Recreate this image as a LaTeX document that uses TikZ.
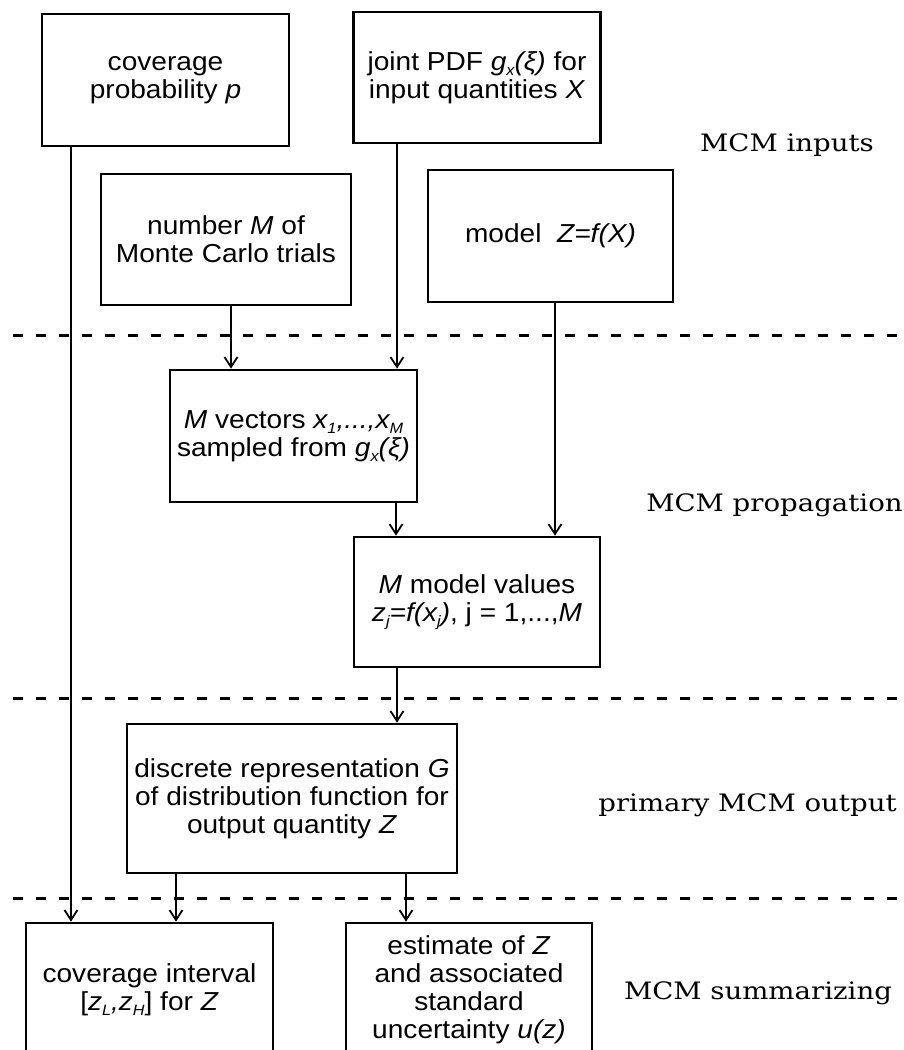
\documentclass[tikz,border=0pt]{standalone}
\usepackage{fontspec}
\setmainfont[FakeStretch=1.15]{DejaVu Serif}
\newfontfamily\boxfont[FakeStretch=1.08]{Liberation Sans}
\usetikzlibrary{arrows.meta}
\newcommand{\lo}[1]{\raisebox{-0.35ex}{\fontsize{15}{15}\selectfont #1}}

\begin{document}
\begin{tikzpicture}[x=1pt,y=-1pt,>={Straight Barb[length=10pt,width=13pt]}]
		\tikzstyle{every node}+=[inner sep=0pt]
		\tikzstyle{mcbox}=[draw,line width=2.7pt,minimum width=247,minimum height=132,align=center,font=\boxfont\fontsize{26}{28}\selectfont]
		\tikzstyle{phase}=[font=\fontsize{24}{28}\selectfont]
		\tikzstyle{flow}=[->,line width=1.8pt]
		\tikzstyle{sep}=[line width=3pt,dash pattern=on 10pt off 13pt]
		\useasboundingbox (0,0) rectangle (904,1050);
		\node [mcbox] (prob) at (165.5,80) {coverage\\probability \textit{p}};
		\node [mcbox,minimum height=131] (pdf) at (477,77.5) {joint PDF \textit{g\lo{x}(ξ)} for\\input quantities \textit{X}};
		\node [mcbox,minimum width=250,minimum height=131] (trials) at (226,239.5) {number \textit{M} of\\Monte Carlo trials};
		\node [mcbox,minimum width=245] (model) at (550.5,236) {model \ \textit{Z=f(X)}};
		\node [mcbox] (vectors) at (293.5,436) {\textit{M} vectors \textit{x\lo{1},...,x\lo{M}}\\sampled from \textit{g\lo{x}(ξ)}};
		\node [mcbox,minimum width=246,minimum height=130] (values) at (477,602) {\textit{M} model values\\\textit{z\lo{j}=f(x\lo{j})}, j = 1,...,\textit{M}};
		\node [mcbox,minimum width=330,minimum height=149] (discrete) at (292,798.5) {discrete representation \textit{G}\\of distribution function for\\output quantity \textit{Z}};
		\node [mcbox,minimum height=133] (interval) at (149.5,989.5) {coverage interval\\{}[\textit{z\lo{L},z\lo{H}}] for \textit{Z}};
		\node [mcbox,minimum width=246,minimum height=133] (estimate) at (469,989.5) {estimate of \textit{Z}\\and associated\\standard\\uncertainty \textit{u(z)}};
		\node [phase] (lin) at (787,145) {MCM inputs};
		\node [phase] (lprop) at (774.5,505) {MCM propagation};
		\node [phase] (lout) at (747.5,805) {primary MCM output};
		\node [phase] (lsum) at (758,993) {MCM summarizing};
		\draw [sep] (13,335) -- (904,335);
		\draw [sep] (13,698) -- (904,698);
		\draw [sep] (13,898) -- (904,898);
		\draw [flow] (prob.south -| 71,0) -- (interval.north -| 71,0);
		\draw [flow] (trials.south -| 231,0) -- (vectors.north -| 231,0);
		\draw [flow] (pdf.south -| 397,0) -- (vectors.north -| 397,0);
		\draw [flow] (model.south -| 555,0) -- (values.north -| 555,0);
		\draw [flow] (vectors.south -| 396,0) -- (values.north -| 396,0);
		\draw [flow] (values.south -| 397,0) -- (discrete.north -| 397,0);
		\draw [flow] (discrete.south -| 176,0) -- (interval.north -| 176,0);
		\draw [flow] (discrete.south -| 406,0) -- (estimate.north -| 406,0);
\end{tikzpicture}
\end{document}
